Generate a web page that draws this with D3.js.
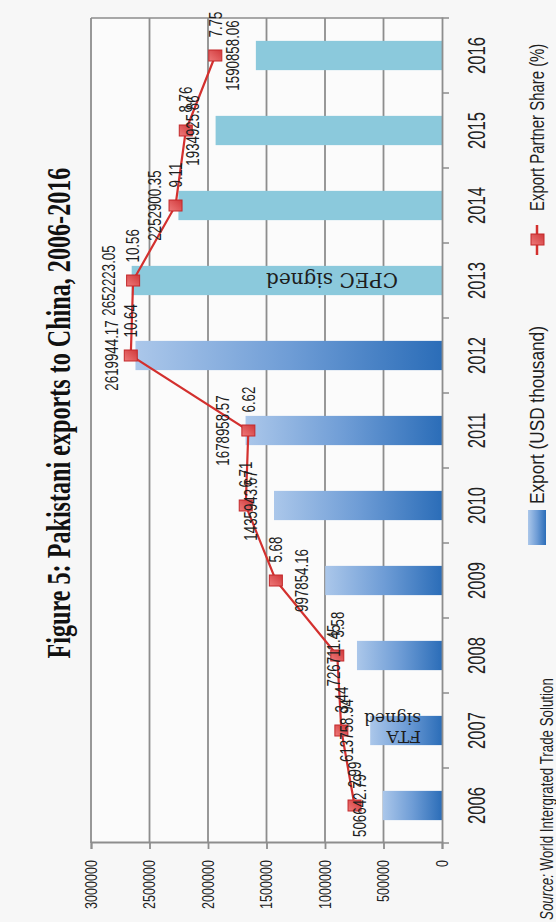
<!DOCTYPE html>
<html><head><meta charset="utf-8">
<script src="https://cdn.jsdelivr.net/npm/d3@7/dist/d3.min.js"></script>
<style>
body{margin:0;background:#f7f7f7;}
svg{display:block;}
</style></head>
<body>
<svg id="chart" width="556" height="922"></svg>
<script>
// ---------- data ----------
const years = ["2006","2007","2008","2009","2010","2011","2012","2013","2014","2015","2016"];
const exportValues = [506642.79, 613758.94, 726711.45, 997854.16, 1435943.67, 1678958.57, 2619944.17, 2652223.05, 2252900.35, 1934925.86, 1590858.06];
const shareValues = [2.99, 3.44, 3.58, 5.68, 6.71, 6.62, 10.64, 10.56, 9.11, 8.76, 7.75];
const valueTicks = [0, 500000, 1000000, 1500000, 2000000, 2500000, 3000000];
const shareDomain = [0, 12];
const ftaYear = "2007";
const cpecYear = "2013";
const titleText = "Figure 5: Pakistani exports to China, 2006-2016";
const legendLabels = ["Export (USD thousand)", "Export Partner Share (%)"];
const sourceText = ["Source:", " World Intergrated Trade Solution"];

// ---------- layout (chart drawn upright, then rotated -90deg) ----------
const svg = d3.select("#chart");
const W = 825, H = 351;
const originX = 91, originY = 843;
const g = svg.append("g").attr("transform", `translate(${originX},${originY}) rotate(-90)`);

const x = d3.scaleBand().domain(years).range([0, W]).paddingInner(0.61).paddingOuter(0.305);
const y = d3.scaleLinear().domain([0, 3000000]).range([H, 0]);
const y2 = d3.scaleLinear().domain(shareDomain).range([H, 0]);
const bw = x.bandwidth();
const step = x.step();

const SANS = "'Liberation Sans', Arial, sans-serif";
const SERIF = "'DejaVu Serif', serif";
const SX = 0.74;

// defs
const defs = svg.append("defs");
const grad = defs.append("linearGradient").attr("id","barGrad")
  .attr("x1",0).attr("y1",0).attr("x2",0).attr("y2",1);
grad.append("stop").attr("offset","0%").attr("stop-color","#abc7ea");
grad.append("stop").attr("offset","50%").attr("stop-color","#6f9dd6");
grad.append("stop").attr("offset","100%").attr("stop-color","#2b6db8");
const mgrad = defs.append("linearGradient").attr("id","mkGrad")
  .attr("x1",0).attr("y1",0).attr("x2",1).attr("y2",1);
mgrad.append("stop").attr("offset","0%").attr("stop-color","#ee7a7a");
mgrad.append("stop").attr("offset","100%").attr("stop-color","#d0383a");

// plot background
g.append("rect").attr("x",0).attr("y",0).attr("width",W).attr("height",H).attr("fill","#fbfbfb");

// gridlines
g.append("g").selectAll("line").data(valueTicks.filter(d=>d>0)).join("line")
  .attr("x1",0).attr("x2",W).attr("y1",d=>y(d)).attr("y2",d=>y(d))
  .attr("stroke","#8d8d8d").attr("stroke-width",1.8);
g.append("line").attr("x1",W).attr("x2",W).attr("y1",0).attr("y2",H)
  .attr("stroke","#8d8d8d").attr("stroke-width",1.5);

// bars
g.append("g").selectAll("rect").data(years).join("rect")
  .attr("x", d=>x(d)).attr("width", bw)
  .attr("y", (d,i)=>y(exportValues[i])).attr("height",(d,i)=>H - y(exportValues[i]))
  .attr("fill", d => d >= cpecYear ? "#8bc9dc" : "url(#barGrad)");

// value axis (page bottom)
const yAxis = g.append("g").call(d3.axisLeft(y).tickValues(valueTicks).tickSize(6).tickFormat(d3.format("d")));
yAxis.select(".domain").attr("stroke","#8d8d8d").attr("stroke-width",1.8);
yAxis.selectAll(".tick line").attr("stroke","#8d8d8d").attr("stroke-width",1.8);
yAxis.selectAll(".tick text")
  .attr("x", -17/SX).attr("transform",`scale(${SX},1)`)
  .attr("font-family",SANS).attr("font-size",17).attr("fill","#222");

// category axis (page right)
const xAxis = g.append("g").attr("transform",`translate(0,${H})`)
  .call(d3.axisBottom(x).tickSize(0).tickPadding(0));
xAxis.select(".domain").attr("stroke","#8d8d8d").attr("stroke-width",1.8);
xAxis.selectAll(".tick text").each(function(){
  d3.select(this).attr("y", 27).attr("dy","0.71em").attr("transform",`scale(0.72,1)`)
   .attr("font-family",SANS).attr("font-size",23).attr("fill","#222");
});
g.append("g").selectAll("line").data(d3.range(years.length+1)).join("line")
  .attr("x1",i=> i*step).attr("x2",i=> i*step)
  .attr("y1",H).attr("y2",H+7)
  .attr("stroke","#8d8d8d").attr("stroke-width",1.5);

// annotations inside bars
const cpec = g.append("g").attr("transform",`translate(${x(cpecYear)+bw/2},${H-44}) rotate(-90)`);
cpec.append("text").attr("dy","0.36em").text("CPEC signed")
  .attr("font-family",SERIF).attr("font-size",20).attr("fill","#1d1d1d");
const fta = g.append("g").attr("transform",`translate(${x(ftaYear)+bw/2},${H-21}) rotate(-90)`);
fta.append("text").attr("y",0).text("FTA").attr("font-family",SERIF).attr("font-size",17).attr("fill","#1d1d1d");
fta.append("text").attr("y",18).text("signed").attr("font-family",SERIF).attr("font-size",17).attr("fill","#1d1d1d");

// line
const pts = years.map((d,i)=>({year:d, share:shareValues[i], value:exportValues[i]}));
g.append("path").datum(pts)
  .attr("d", d3.line().x(d=>x(d.year)+bw/2).y(d=>y2(d.share)))
  .attr("fill","none").attr("stroke","#d3302e").attr("stroke-width",2.2);
g.append("g").selectAll("rect").data(pts).join("rect")
  .attr("x", d=>x(d.year)+bw/2-5.5).attr("y", d=>y2(d.share)-6.5)
  .attr("width",11).attr("height",13)
  .attr("fill","url(#mkGrad)").attr("stroke","#c3282a").attr("stroke-width",1);

function ctext(parent, px, py, str, o){
  const gg = parent.append("g").attr("transform",`translate(${px},${py}) scale(${o.sx||SX},1)`);
  const t = gg.append("text").text(str)
    .attr("font-family", o.family||SANS).attr("font-size", o.size||18)
    .attr("fill", o.fill||"#1e1e1e").attr("text-anchor", o.anchor||"start");
  if (o.dy) t.attr("dy", o.dy);
  if (o.weight) t.attr("font-weight", o.weight);
  return t;
}

// export labels
pts.forEach(d=>{
  ctext(g, x(d.year)+bw/2, y(d.value)-17, String(d.value), {anchor:"middle", size:18});
});
// share labels
pts.forEach(d=>{
  ctext(g, x(d.year)+bw/2+18, y2(d.share), String(d.share), {anchor:"start", size:18, dy:"0.35em"});
});

// title
ctext(g, 430, -21, titleText, {anchor:"middle", size:34, family:"'Liberation Serif', serif", weight:"bold", sx:0.71, fill:"#111"});

// legend
const lg = g.append("g").attr("transform",`translate(0,${H})`);
lg.append("rect").attr("x",298).attr("y",86).attr("width",35).attr("height",18).attr("fill","url(#barGrad)");
ctext(lg, 339, 102, legendLabels[0], {size:21, sx:0.82});
lg.append("line").attr("x1",588).attr("x2",618).attr("y1",95).attr("y2",95).attr("stroke","#d3302e").attr("stroke-width",2.5);
lg.append("rect").attr("x",598).attr("y",89).attr("width",11).attr("height",13).attr("fill","url(#mkGrad)").attr("stroke","#c3282a");
ctext(lg, 632, 102, legendLabels[1], {size:21, sx:0.71});

// source
const st = ctext(g, -77, 462, "", {size:18, sx:0.74});
st.append("tspan").attr("font-style","italic").text(sourceText[0]);
st.append("tspan").text(sourceText[1]);
</script>
</body></html>
